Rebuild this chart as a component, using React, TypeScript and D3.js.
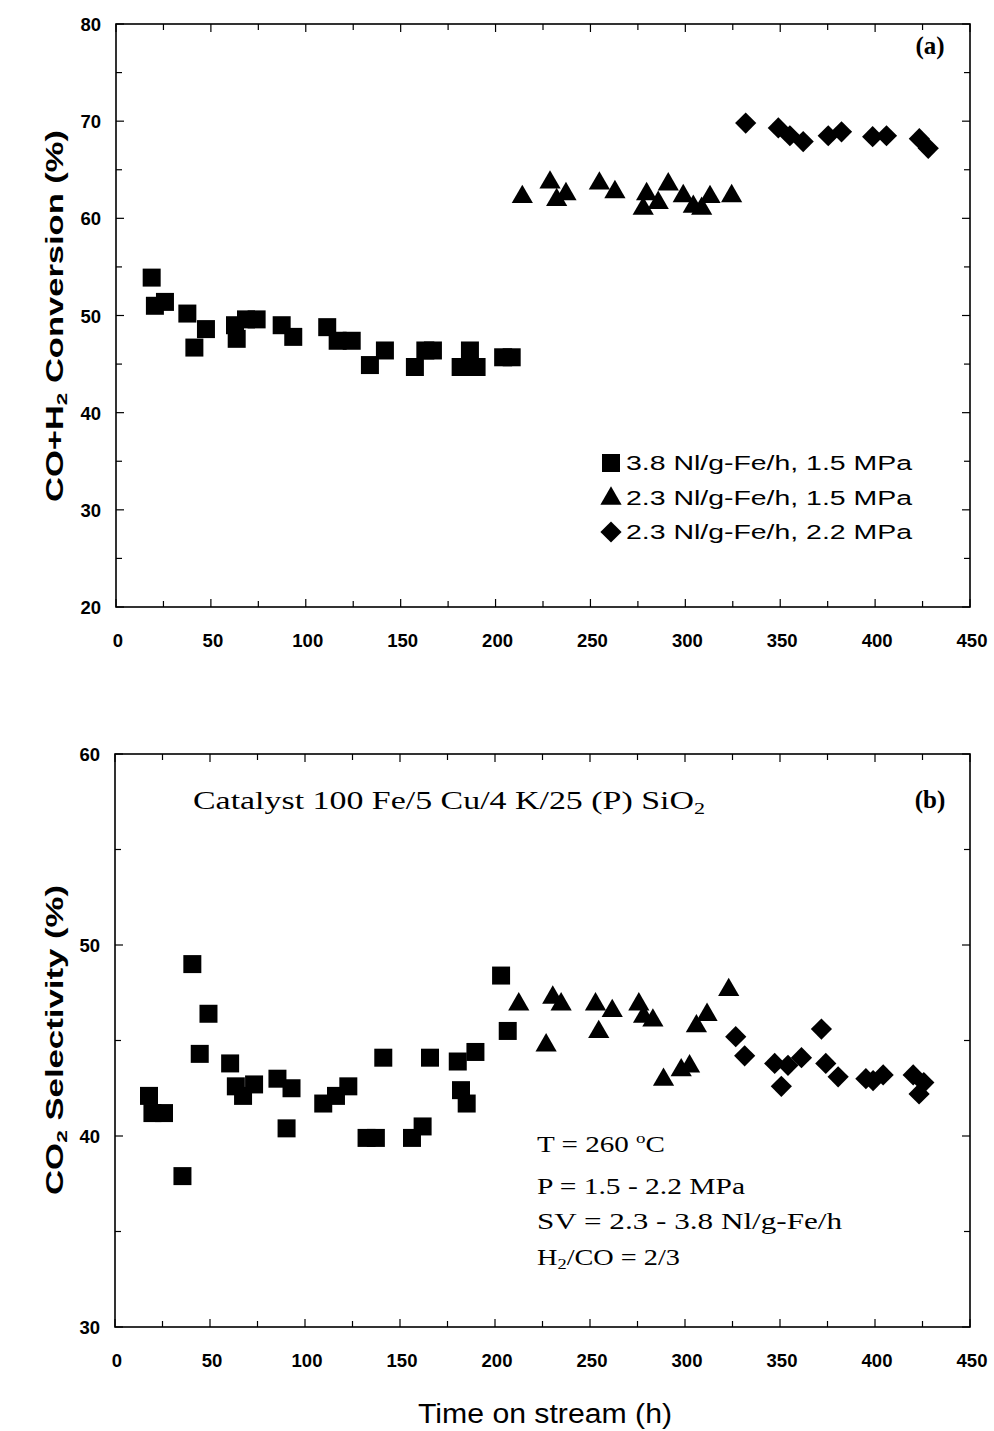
import React from "react";
import * as d3 from "d3";

// ---------- Panel (a): CO+H2 conversion ----------
const convSqT = [18.8, 20.5, 25.8, 37.6, 41.3, 47.4, 62.7, 63.6, 68.5, 74.1, 87.3, 93.4, 111.3, 116.8, 124.2, 133.8, 141.7, 157.5, 163, 167, 181.6, 186.5, 190, 204, 208.5];
const convSqV = [53.9, 51.0, 51.4, 50.2, 46.7, 48.6, 49.0, 47.6, 49.6, 49.6, 49.0, 47.8, 48.8, 47.4, 47.4, 44.9, 46.4, 44.7, 46.4, 46.4, 44.7, 46.4, 44.7, 45.7, 45.7];
const convTriT = [214.1, 228.7, 232.2, 237.1, 254.7, 262.9, 277.8, 279.6, 285.7, 291, 298.9, 304.2, 308.6, 313, 324.4];
const convTriV = [62.3, 63.8, 62.0, 62.6, 63.7, 62.8, 61.1, 62.6, 61.7, 63.6, 62.4, 61.3, 61.1, 62.3, 62.4];
const convDiaT = [331.8, 349, 355.1, 362.1, 375.3, 382.3, 398.7, 406, 423.3, 428];
const convDiaV = [69.8, 69.3, 68.5, 67.9, 68.5, 68.9, 68.4, 68.5, 68.2, 67.2];

// ---------- Panel (b): CO2 selectivity ----------
const selSqT = [17.9, 19.7, 25.8, 35.5, 40.7, 44.6, 49.2, 60.6, 63.6, 67.4, 73.2, 85.5, 90.3, 92.9, 109.6, 116.3, 122.8, 132.4, 137.3, 141.2, 156.3, 161.9, 165.8, 180.4, 182.1, 185.1, 189.7, 203.2, 206.7];
const selSqV = [42.1, 41.2, 41.2, 37.9, 49.0, 44.3, 46.4, 43.8, 42.6, 42.1, 42.7, 43.0, 40.4, 42.5, 41.7, 42.1, 42.6, 39.9, 39.9, 44.1, 39.9, 40.5, 44.1, 43.9, 42.4, 41.7, 44.4, 48.4, 45.5];
const selTriT = [212.5, 226.9, 230.4, 234.8, 252.9, 254.6, 261.7, 275.7, 278.2, 283.1, 288.7, 298, 302.4, 306, 311.6, 323];
const selTriV = [46.95, 44.8, 47.3, 46.95, 46.95, 45.5, 46.6, 46.95, 46.3, 46.1, 43.0, 43.5, 43.7, 45.8, 46.4, 47.7];
const selDiaT = [326.7, 331.4, 347.2, 350.7, 354.2, 361.3, 371.8, 374.1, 380.6, 395.2, 399, 404.3, 420.1, 423.2, 425.7];
const selDiaV = [45.2, 44.2, 43.8, 42.6, 43.7, 44.1, 45.6, 43.8, 43.1, 43.0, 42.9, 43.2, 43.2, 42.2, 42.8];

const xTicks = [0, 50, 100, 150, 200, 250, 300, 350, 400, 450];
const convTicks = [20, 30, 40, 50, 60, 70, 80];
const selTicks = [30, 40, 50, 60];
const legendLabels = ["3.8 Nl/g-Fe/h, 1.5 MPa", "2.3 Nl/g-Fe/h, 1.5 MPa", "2.3 Nl/g-Fe/h, 2.2 MPa"];

const SANS = "'Liberation Sans', Arial, Helvetica, sans-serif";
const SERIF = "'Liberation Serif', 'Times New Roman', serif";

const sqPath = d3.symbol().type(d3.symbolSquare).size(18 * 18)() as string;
const triPath = d3.symbol().type(d3.symbolTriangle).size(195)() as string;
const diaPath = d3.symbol().type(d3.symbolSquare).size(15 * 15)() as string;

function Marker({ kind, x, y }: { kind: string; x: number; y: number }) {
  if (kind === "sq") return <path d={sqPath} transform={`translate(${x},${y})`} fill="#000" />;
  if (kind === "tri") return <path d={triPath} transform={`translate(${x},${y + 1})`} fill="#000" />;
  return <path d={diaPath} transform={`translate(${x},${y}) rotate(45)`} fill="#000" />;
}

type Series = { kind: string; t: number[]; v: number[] };

function Panel({
  x0, x1, yTop, yBot, yDomain, yTicks, series,
}: {
  x0: number; x1: number; yTop: number; yBot: number; yDomain: [number, number]; yTicks: number[]; series: Series[];
}) {
  const x = d3.scaleLinear().domain([0, 450]).range([x0, x1]);
  const y = d3.scaleLinear().domain(yDomain).range([yBot, yTop]);
  const xMinor = d3.range(0, 451, 25);
  const yMinor = d3.range(yDomain[0], yDomain[1] + 0.01, 5);
  return (
    <g>
      <rect x={x0} y={yTop} width={x1 - x0} height={yBot - yTop} fill="none" stroke="#000" strokeWidth={1.6} />
      {xMinor.map((t) => {
        const len = t % 50 === 0 ? 8 : 6;
        return (
          <g key={"xt" + t}>
            <line x1={x(t)} x2={x(t)} y1={yBot} y2={yBot - len} stroke="#000" strokeWidth={1.2} />
            <line x1={x(t)} x2={x(t)} y1={yTop} y2={yTop + len} stroke="#000" strokeWidth={1.2} />
          </g>
        );
      })}
      {yMinor.map((v) => {
        const len = v % 10 === 0 ? 8 : 6;
        return (
          <g key={"yt" + v}>
            <line x1={x0} x2={x0 + len} y1={y(v)} y2={y(v)} stroke="#000" strokeWidth={1.2} />
            <line x1={x1} x2={x1 - len} y1={y(v)} y2={y(v)} stroke="#000" strokeWidth={1.2} />
          </g>
        );
      })}
      {xTicks.map((t) => (
        <text key={"xl" + t} x={x(t) + 2} y={yBot + 40} textAnchor="middle" fontFamily={SANS} fontSize={18.5} fontWeight={600}>
          {t}
        </text>
      ))}
      {yTicks.map((v) => (
        <text key={"yl" + v} x={x0 - 15} y={y(v) + 7} textAnchor="end" fontFamily={SANS} fontSize={18.5} fontWeight={600}>
          {v}
        </text>
      ))}
      {series.map((s, si) =>
        s.t.map((t, i) => <Marker key={`m${si}-${i}`} kind={s.kind} x={x(t)} y={y(s.v[i])} />)
      )}
    </g>
  );
}

export default function App() {
  return (
    <svg width={994} height={1431} style={{ position: "absolute", left: 0, top: 0, background: "#fff" }}>
      <rect width={994} height={1431} fill="#fff" />
      <Panel
        x0={116} x1={970} yTop={24} yBot={607} yDomain={[20, 80]} yTicks={convTicks}
        series={[
          { kind: "sq", t: convSqT, v: convSqV },
          { kind: "tri", t: convTriT, v: convTriV },
          { kind: "dia", t: convDiaT, v: convDiaV },
        ]}
      />
      <text x={930} y={54} textAnchor="middle" fontFamily={SERIF} fontWeight="bold" fontSize={25}>(a)</text>
      <text transform="translate(63,316) rotate(-90)" textAnchor="middle" fontFamily={SANS} fontWeight="bold" fontSize={23}
        textLength={372} lengthAdjust="spacingAndGlyphs">
        CO+H<tspan fontSize={15} dy={4}>2</tspan><tspan dy={-4}> Conversion (%)</tspan>
      </text>
      {legendLabels.map((lab, i) => (
        <g key={lab}>
          <Marker kind={i === 0 ? "sq" : i === 1 ? "tri" : "dia"} x={611} y={463 + i * 34.5} />
          <text x={626} y={463 + i * 34.5 + 7} fontFamily={SANS} fontSize={20.5} textLength={286} lengthAdjust="spacingAndGlyphs">
            {lab}
          </text>
        </g>
      ))}

      <Panel
        x0={115} x1={970} yTop={754} yBot={1327} yDomain={[30, 60]} yTicks={selTicks}
        series={[
          { kind: "sq", t: selSqT, v: selSqV },
          { kind: "tri", t: selTriT, v: selTriV },
          { kind: "dia", t: selDiaT, v: selDiaV },
        ]}
      />
      <text x={930} y={808} textAnchor="middle" fontFamily={SERIF} fontWeight="bold" fontSize={25}>(b)</text>
      <text transform="translate(63,1040) rotate(-90)" textAnchor="middle" fontFamily={SANS} fontWeight="bold" fontSize={23}
        textLength={310} lengthAdjust="spacingAndGlyphs">
        CO<tspan fontSize={15} dy={4}>2</tspan><tspan dy={-4}> Selectivity (%)</tspan>
      </text>
      <text x={193} y={809} fontFamily={SERIF} fontSize={26} textLength={512} lengthAdjust="spacingAndGlyphs">
        Catalyst 100 Fe/5 Cu/4 K/25 (P) SiO<tspan fontSize={17} dy={5}>2</tspan>
      </text>
      <g fontFamily={SERIF} fontSize={23}>
        <text x={537} y={1152} textLength={128} lengthAdjust="spacingAndGlyphs">
          T = 260 <tspan fontSize={15} dy={-9}>o</tspan><tspan dy={9}>C</tspan>
        </text>
        <text x={537} y={1194} textLength={208} lengthAdjust="spacingAndGlyphs">P = 1.5 - 2.2 MPa</text>
        <text x={537} y={1229} textLength={305} lengthAdjust="spacingAndGlyphs">SV = 2.3 - 3.8 Nl/g-Fe/h</text>
        <text x={537} y={1265} textLength={143} lengthAdjust="spacingAndGlyphs">
          H<tspan fontSize={15} dy={4}>2</tspan><tspan dy={-4}>/CO = 2/3</tspan>
        </text>
      </g>
      <text x={545} y={1423} textAnchor="middle" fontFamily={SANS} fontSize={27} textLength={254} lengthAdjust="spacingAndGlyphs">
        Time on stream (h)
      </text>
    </svg>
  );
}
